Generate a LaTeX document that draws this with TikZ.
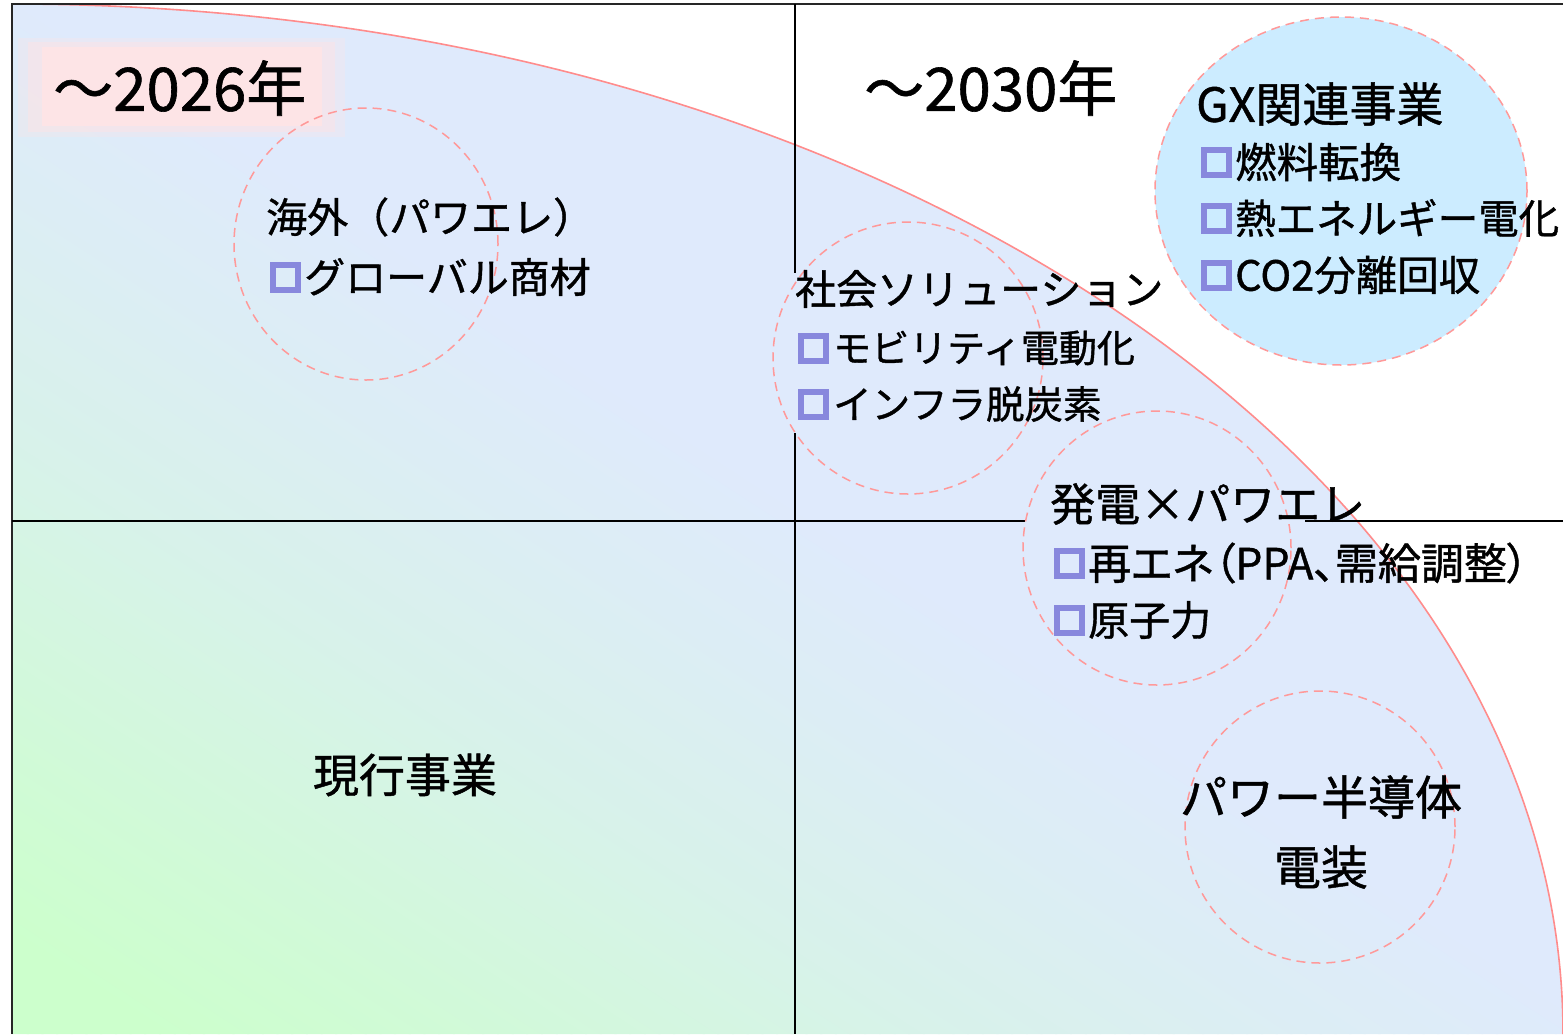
\documentclass[tikz,border=0pt]{standalone}
\usepackage{fontspec}
\setmainfont{Noto Sans CJK JP}[FakeBold=1]
\newfontfamily\jpp[RawFeature=+palt,FakeBold=1]{Noto Sans CJK JP}
\newcommand\jfs[1]{\fontsize{#1}{#1}\selectfont}
\definecolor{bgblue}{RGB}{223,234,252}
\definecolor{bggreen}{RGB}{204,255,204}
\definecolor{gxfill}{RGB}{204,236,255}
\definecolor{dashpink}{RGB}{255,153,153}
\definecolor{arcpink}{RGB}{255,140,140}
\definecolor{bulletc}{RGB}{136,136,221}
\definecolor{glow}{RGB}{253,228,230}
\begin{document}
\begin{tikzpicture}[x=1pt,y=-1pt,
  circ/.style={draw=dashpink, line width=1.5pt, dash pattern=on 9pt off 6pt},
  bul/.style={draw=bulletc, line width=6pt, minimum size=25pt, inner sep=0pt, shape=rectangle},
  txt/.style={inner sep=0pt, anchor=west},
  ctxt/.style={inner sep=0pt, anchor=center},
  grid/.style={line width=1.4pt, draw=black}]
\useasboundingbox (0,0) rectangle (1563,1034);
\fill[white] (0,0) rectangle (1563,1034);
% quarter ellipse with diagonal gradient (green at lower left to blue)
\begin{scope}
\clip (12,1034) -- (12,4) arc[start angle=90, end angle=0, x radius=1551pt, y radius=1030pt] -- cycle;
\fill[bgblue] (0,0) rectangle (1563,1034);
\foreach \u in {0,8,...,872} {
  \pgfmathsetmacro\tp{\u<80 ? 0 : (\u<480 ? ((\u-80)/400)*60 : (\u<660 ? 60+((\u-480)/180)*20 : min(100,80+((\u-660)/210)*20)))}
  \pgfmathsetmacro\xs{12+0.545*\u-1678}
  \pgfmathsetmacro\ys{1034-0.839*\u-1090}
  \fill[bgblue!\tp!bggreen] (\xs,\ys) -- ++(3356,2180) -- ++(4.9,-7.55) -- ++(-3356,-2180) -- cycle;
}
\end{scope}
\draw[arcpink, line width=1.6pt] (12,4) arc[start angle=90, end angle=0, x radius=1551pt, y radius=1030pt];
% glow behind 2026
\fill[glow, opacity=0.3] (18,38) rectangle (345,137);
\fill[glow, opacity=0.5] (28,42) rectangle (335,132);
\fill[glow] (42,47) rectangle (322,126);
% frame and dividers
\draw[line width=1.8pt, draw=black!85] (12,1034) -- (12,4) -- (1563,4);
\draw[grid] (795,4) -- (795,273);
\draw[grid] (795,433) -- (795,1034);
\draw[grid] (12,521) -- (1025,521);
\draw[grid] (1305,521) -- (1563,521);
% circles
\draw[circ] (366,244) ellipse[x radius=132pt, y radius=136pt];
\draw[circ] (908,358) ellipse[x radius=135pt, y radius=136pt];
\draw[circ, fill=gxfill] (1341,191) ellipse[x radius=186pt, y radius=174pt];
\draw[circ] (1157,548) ellipse[x radius=134pt, y radius=137pt];
\draw[circ] (1320,827) ellipse[x radius=135pt, y radius=136pt];
% titles
\node[txt] (y2026) at (53,88) {\jfs{60}～2026年};
\node[txt] (y2030) at (864,88) {\jfs{60}～2030年};
% overseas
\node[txt] (kaigai) at (266,217) {\jfs{41}海外（パワエレ）};
\node[bul] (b1) at (285.5,277.5) {};
\node[txt] (global) at (304,277) {\jfs{41}グローバル商材};
% social solutions
\node[txt] (shakai) at (795,289) {\jfs{41}社会ソリューション};
\node[bul] (b2) at (813.5,348.5) {};
\node[txt] (mobility) at (833,348) {\jfs{38}モビリティ電動化};
\node[bul] (b3) at (813.5,404.5) {};
\node[txt] (infra) at (833,404) {\jfs{38.5}インフラ脱炭素};
% GX
\node[txt] (gx) at (1196,104) {\jfs{47}GX関連事業};
\node[bul] (b4) at (1216,162) {};
\node[txt] (nenryo) at (1235,162) {\jfs{41.5}燃料転換};
\node[bul] (b5) at (1216,218) {};
\node[txt] (netsu) at (1235,218) {\jfs{40.5}熱エネルギー電化};
\node[bul] (b6) at (1216,275) {};
\node[txt] (co2) at (1235,275) {\jfs{41.5}CO2分離回収};
% power generation
\node[txt] (hatsuden) at (1050,504) {\jfs{45}発電×パワエレ};
\node[bul] (b7) at (1069,563) {};
\node[txt] (saiene) at (1088,563) {\jfs{43}\jpp 再エネ（PPA、需給調整）};
\node[bul] (b8) at (1069,620) {};
\node[txt] (genshi) at (1088,620) {\jfs{41}原子力};
% power semiconductor
\node[ctxt] (power) at (1321,797) {\jfs{47}パワー半導体};
\node[ctxt] (denso) at (1321,867) {\jfs{47}電装};
% current business
\node[ctxt] (genko) at (405,775) {\jfs{46}現行事業};
\end{tikzpicture}
\end{document}
